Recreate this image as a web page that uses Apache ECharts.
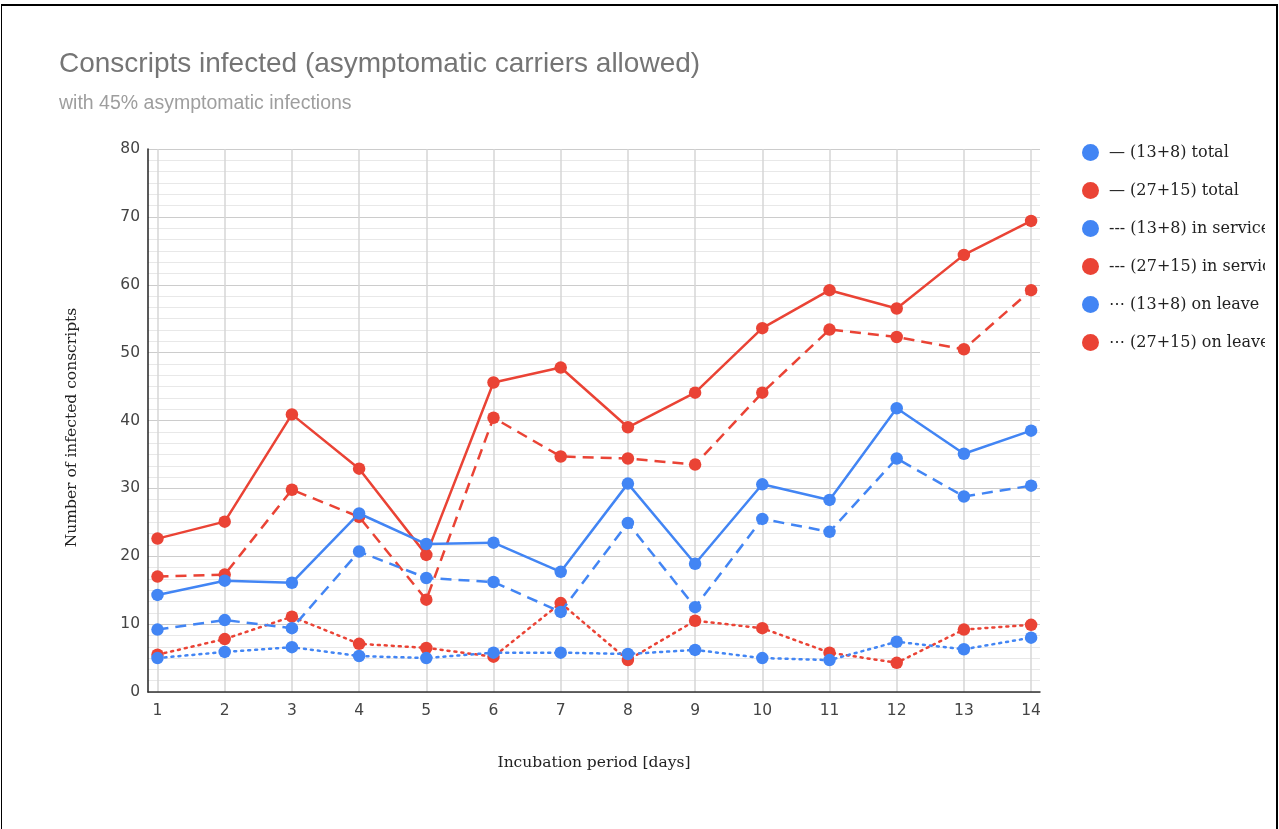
<!DOCTYPE html>
<html>
<head>
<meta charset="utf-8">
<script src="https://cdn.jsdelivr.net/npm/echarts@6/dist/echarts.min.js"></script>
<style>
html,body{margin:0;padding:0;background:#fff;}
#frame{position:absolute;left:1px;top:4px;width:1274px;height:840px;border-top:2px solid #000;border-left:1px solid #000;border-right:2px solid #000;}
#chart{position:absolute;left:0;top:0;width:1265px;height:829px;overflow:hidden;}
</style>
</head>
<body>
<div id="frame"></div>
<div id="chart"></div>
<script>
const days = ['1','2','3','4','5','6','7','8','9','10','11','12','13','14'];
const yTicks = [0,10,20,30,40,50,60,70,80];
const seriesNames = ['\u2014 (13+8) total','\u2014 (27+15) total','--- (13+8) in service','--- (27+15) in service','\u22EF (13+8) on leave','\u22EF (27+15) on leave'];
const blueTotal   = [14.3,16.4,16.1,26.3,21.8,22.0,17.7,30.7,18.9,30.6,28.3,41.8,35.1,38.5];
const redTotal    = [22.6,25.1,40.9,32.9,20.2,45.6,47.8,39.0,44.1,53.6,59.2,56.5,64.4,69.4];
const blueService = [9.2,10.6,9.4,20.7,16.8,16.2,11.8,24.9,12.5,25.5,23.6,34.4,28.8,30.4];
const redService  = [17.0,17.3,29.8,25.8,13.6,40.4,34.7,34.4,33.5,44.1,53.4,52.3,50.5,59.2];
const blueLeave   = [5.0,5.9,6.6,5.3,5.0,5.8,5.8,5.6,6.2,5.0,4.7,7.4,6.3,8.0];
const redLeave    = [5.5,7.8,11.1,7.1,6.5,5.2,13.1,4.7,10.5,9.4,5.8,4.3,9.2,9.9];

const BLUE = '#4285F4', RED = '#EA4335';
const values = [blueTotal, redTotal, blueService, redService, blueLeave, redLeave];
const colors = [BLUE, RED, BLUE, RED, BLUE, RED];
const types = ['solid','solid',[11,7],[11,7],[2,5],[2,5]];
const SERIF = 'DejaVu Serif, Liberation Serif, serif';

const chart = echarts.init(document.getElementById('chart'));
const series = values.map((v,i)=>({
  name: seriesNames[i], type:'line', xAxisIndex:1, yAxisIndex:1,
  data: v, symbol:'circle', symbolSize:12.5, showSymbol:true,
  itemStyle:{color:colors[i]},
  lineStyle:{color:colors[i], width:2.5, type:types[i], cap: i>=4 ? 'round':'butt'},
  z: 10 - i
}));

chart.setOption({
  animation:false,
  title:[
    {text:'Conscripts infected (asymptomatic carriers allowed)', left:54, top:45,
     textStyle:{fontFamily:'Liberation Sans, Arial', fontSize:28, fontWeight:'normal', color:'#757575'}},
    {text:'with 45% asymptomatic infections', left:54, top:89,
     textStyle:{fontFamily:'Liberation Sans, Arial', fontSize:19.5, fontWeight:'normal', color:'#9e9e9e'}}
  ],
  legend:{
    orient:'vertical', left:1077, top:139, itemGap:21, itemWidth:17, itemHeight:17,
    icon:'circle',
    data: seriesNames.map((n,i)=>({name:n, itemStyle:{color:colors[i]}, lineStyle:{width:0}})),
    textStyle:{fontFamily:SERIF, fontSize:16, color:'#222', padding:[0,0,0,5]}
  },
  grid:[
    {left:148, top:149, width:892, height:543},
    {left:157.5, top:149, width:873.6, height:543}
  ],
  xAxis:[
    {type:'category', gridIndex:0, data:days, boundaryGap:false,
     axisLine:{show:true, lineStyle:{color:'#333', width:1.5}}, axisTick:{show:false}, axisLabel:{show:false}, splitLine:{show:false},
     name:'Incubation period [days]', nameLocation:'middle', nameGap:63,
     nameTextStyle:{fontFamily:SERIF, fontSize:15.5, color:'#222'}},
    {type:'category', gridIndex:1, data:days, boundaryGap:false,
     axisLine:{show:false}, axisTick:{show:false},
     axisLabel:{fontFamily:'DejaVu Sans, Roboto, Arial', fontSize:15.5, color:'#444', margin:11},
     splitLine:{show:true, lineStyle:{color:'#d6d6d6', width:1.5}}}
  ],
  yAxis:[
    {type:'value', gridIndex:0, min:yTicks[0], max:yTicks[yTicks.length-1], interval:10,
     axisLine:{show:true, lineStyle:{color:'#222', width:1.5}}, axisTick:{show:false},
     axisLabel:{fontFamily:'DejaVu Sans, Roboto, Arial', fontSize:15.5, color:'#444', margin:8},
     splitLine:{show:true, lineStyle:{color:'#cccccc', width:1.2}},
     minorTick:{show:false, splitNumber:6},
     minorSplitLine:{show:true, lineStyle:{color:'#e8e8e8', width:1.2}},
     name:'Number of infected conscripts', nameLocation:'middle', nameGap:68, nameRotate:90,
     nameTextStyle:{fontFamily:SERIF, fontSize:15.5, color:'#222', padding:[0,14,0,0]}},
    {type:'value', gridIndex:1, min:yTicks[0], max:yTicks[yTicks.length-1], interval:10, show:false,
     splitLine:{show:false}}
  ],
  series: series
});
</script>
</body>
</html>
